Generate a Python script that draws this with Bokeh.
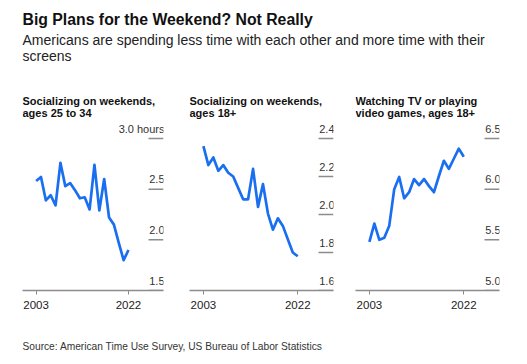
from bokeh.plotting import figure
from bokeh.models import (Range1d, LinearAxis, FixedTicker, Label, LabelSet,
                          ColumnDataSource)
from bokeh.core.properties import value
from bokeh.layouts import column, row
from bokeh.embed import file_html
from bokeh.resources import INLINE

# ---------------- data ----------------
years = list(range(2003, 2023))
soc_25_34 = [2.58, 2.62, 2.39, 2.44, 2.34, 2.76, 2.53, 2.56, 2.49, 2.41,
             2.42, 2.30, 2.74, 2.29, 2.60, 2.22, 2.15, 1.97, 1.80, 1.90]
soc_18 = [2.36, 2.26, 2.30, 2.23, 2.26, 2.22, 2.20, 2.14, 2.08, 2.08,
          2.24, 2.04, 2.16, 2.005, 1.92, 1.98, 1.94, 1.87, 1.80, 1.78]
tv_18 = [5.48, 5.66, 5.50, 5.52, 5.64, 6.00, 6.12, 5.91, 5.97, 6.10,
         6.04, 6.10, 6.03, 5.97, 6.13, 6.28, 6.20, 6.30, 6.40, 6.32]

x_ticks = [2003, 2022]
ticks_1 = [1.5, 2.0, 2.5, 3.0]
labels_1 = ["1.5", "2.0", "2.5", "3.0 hours"]
ticks_2 = [1.6, 1.8, 2.0, 2.2, 2.4]
labels_2 = ["1.6", "1.8", "2.0", "2.2", "2.4"]
ticks_3 = [5.0, 5.5, 6.0, 6.5]
labels_3 = ["5.0", "5.5", "6.0", "6.5"]

title = "Big Plans for the Weekend? Not Really"
subtitle_1 = "Americans are spending less time with each other and more time with their"
subtitle_2 = "screens"
source = "Source: American Time Use Survey, US Bureau of Labor Statistics"
panel_titles = [("Socializing on weekends,", "ages 25 to 34"),
                ("Socializing on weekends,", "ages 18+"),
                ("Watching TV or playing", "video games, ages 18+")]

# ---------------- style ----------------
FONT = "Liberation Sans"
BLUE = "#1a6ff0"
FRAME_H = 210
TOP_TICK_PX = 152
TICK_LEN_PX = 15
X0, X1 = 2000.2, 2029.2


def blank(p):
    p.xgrid.visible = False
    p.ygrid.visible = False
    p.outline_line_color = None
    p.background_fill_color = "white"
    p.border_fill_color = "white"


def panel(vals, ticks, labels, ttl, frame_w, bl, br):
    lo, hi = ticks[0], ticks[-1]
    y_end = lo + (hi - lo) * FRAME_H / TOP_TICK_PX
    p = figure(frame_width=frame_w, frame_height=FRAME_H,
               x_range=Range1d(X0, X1), y_range=Range1d(lo, y_end),
               min_border_left=bl, min_border_right=br, min_border_top=0,
               min_border_bottom=28, output_backend="svg",
               toolbar_location=None, x_axis_location=None,
               y_axis_location=None)
    blank(p)

    # short value-tick lines at the right edge of the panel
    tick_len = TICK_LEN_PX * (X1 - X0) / frame_w
    p.segment(x0=[X1 - tick_len] * len(ticks), y0=ticks,
              x1=[X1] * len(ticks), y1=ticks,
              line_color="#8c8c8c", line_width=1.5)

    p.line(years, vals, line_color=BLUE, line_width=2.7, line_join="round")

    xa = LinearAxis(ticker=FixedTicker(ticks=x_ticks))
    xa.axis_line_color = "#8c8c8c"
    xa.axis_line_width = 1.3
    xa.major_tick_line_color = "#8c8c8c"
    xa.major_tick_out = 4
    xa.major_tick_in = 0
    xa.minor_tick_line_color = None
    xa.major_label_standoff = 6
    xa.major_label_text_font = FONT
    xa.major_label_text_font_size = "11.5px"
    xa.major_label_text_color = "#222222"
    p.add_layout(xa, "below")

    src = ColumnDataSource(dict(x=[X1] * len(ticks), y=ticks, t=labels))
    p.add_layout(LabelSet(x="x", y="y", text="t", source=src,
                          text_align="right", text_baseline="alphabetic",
                          y_offset=6, x_offset=1, text_font=value(FONT),
                          text_font_size=value("11px"),
                          text_color="#333333"))

    for i, line in enumerate(ttl):
        p.add_layout(Label(x=0, y=FRAME_H - 20 - 12.5 * i, x_units="screen",
                           y_units="screen", text=line, text_font=FONT,
                           text_font_style="bold", text_font_size="11px",
                           text_color="#111111", text_baseline="alphabetic"))
    return p


p1 = panel(soc_25_34, ticks_1, labels_1, panel_titles[0], 141, 22, 13)
p2 = panel(soc_18, ticks_2, labels_2, panel_titles[1], 144, 13, 11)
p3 = panel(tv_18, ticks_3, labels_3, panel_titles[2], 144, 11, 28)

# header
hdr = figure(frame_width=527, frame_height=80, min_border=0,
             x_range=Range1d(0, 1), y_range=Range1d(0, 1),
             output_backend="svg", toolbar_location=None,
             x_axis_location=None, y_axis_location=None)
blank(hdr)
hdr.add_layout(Label(x=22, y=53, x_units="screen", y_units="screen",
                     text=title, text_font=FONT, text_font_style="bold",
                     text_font_size="15.8px", text_color="#111111"))
hdr.add_layout(Label(x=22, y=33, x_units="screen", y_units="screen",
                     text=subtitle_1, text_font=FONT, text_font_size="14px",
                     text_color="#222222"))
hdr.add_layout(Label(x=22, y=17, x_units="screen", y_units="screen",
                     text=subtitle_2, text_font=FONT, text_font_size="14px",
                     text_color="#222222"))

# footer
ftr = figure(frame_width=527, frame_height=46, min_border=0,
             x_range=Range1d(0, 1), y_range=Range1d(0, 1),
             output_backend="svg", toolbar_location=None,
             x_axis_location=None, y_axis_location=None)
blank(ftr)
ftr.add_layout(Label(x=22, y=13, x_units="screen", y_units="screen",
                     text=source, text_font=FONT, text_font_size="10.2px",
                     text_color="#333333"))

layout = column(hdr, row(p1, p2, p3, spacing=0), ftr, spacing=0)

with open("out.html", "w") as f:
    f.write(file_html(layout, INLINE))
